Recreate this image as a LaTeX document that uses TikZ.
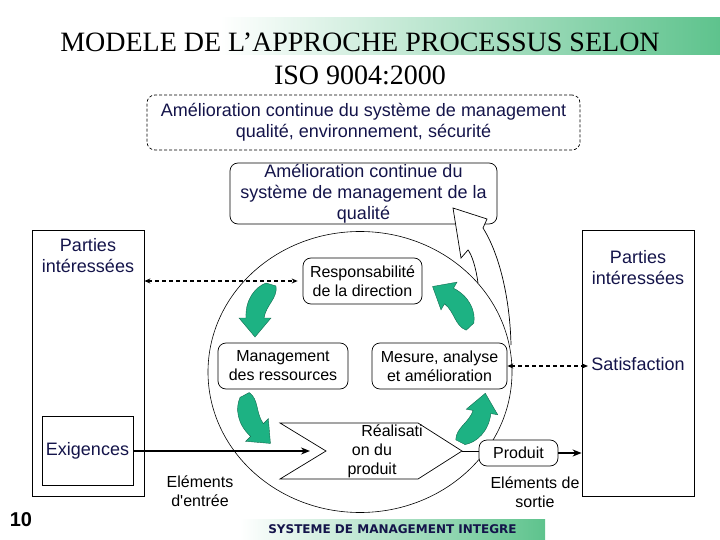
\documentclass[tikz,border=0pt]{standalone}
\usepackage{fontspec}
\setmainfont{Liberation Sans}
\newfontfamily\titlefont{Liberation Serif}
\newfontfamily\bandfont{DejaVu Sans}
\usetikzlibrary{arrows.meta}
\definecolor{IsoNavy}{HTML}{14144A}
\definecolor{IsoGreen}{HTML}{5EC38D}
\definecolor{PdcaGreen}{HTML}{1DB283}

% fleche verte courbe du cycle (position, rotation)
\newcommand{\pdcaarrow}[2]{%
  \filldraw[pdca,shift={#1},rotate=#2]
    (11,-35) -- (21,-32) .. controls (23,-20) and (11,-13) .. (9,0)
    -- (16,0) -- (0,19) -- (-16,0) -- (-9,0)
    .. controls (-10,-18) and (0,-31) .. cycle;}

\begin{document}
\begin{tikzpicture}[
  x=1pt,y=-1pt,
  font=\fontsize{16}{19}\selectfont,
  box/.style={draw,line width=0.7pt,rounded corners=8pt,fill=white,align=center,inner sep=0pt},
  pibox/.style={draw,line width=0.8pt,fill=white,inner sep=0pt},
  navytxt/.style={text=IsoNavy,font=\fontsize{18}{21}\selectfont,align=center},
  plaintxt/.style={align=center},
  pdca/.style={fill=PdcaGreen,draw=PdcaGreen!60!black,line width=0.4pt},
  arr/.style={-{Stealth[length=9pt,width=7pt]},line width=2pt},
  dasharr/.style={{Stealth[length=6pt,width=5pt]}-{Stealth[length=6pt,width=5pt]},line width=1.5pt,dash pattern=on 4pt off 3pt}
]
  \useasboundingbox (0,0) rectangle (720,540);
  % titre
  \shade[left color=white,right color=IsoGreen] (220,18) rectangle (720,55);
  \node[font=\titlefont\fontsize{28}{33}\selectfont,align=center] (title) at (360,59) {MODELE DE L’APPROCHE PROCESSUS SELON\\ISO 9004:2000};

  \node[navytxt,draw,rounded corners=8pt,dash pattern=on 3pt off 2pt,line width=0.7pt,minimum width=433pt,minimum height=55pt] (smi) at (363.5,122.5) {Amélioration continue du système de management\\qualité, environnement, sécurité};
  \node[navytxt,box,minimum width=267pt,minimum height=61pt] (amq) at (363.5,193.5) {Amélioration continue du\\système de management de la\\qualité};

  % boucle vers l'amelioration
  \fill[white] (478,283) .. controls (476,268) and (472,255) .. (468,250) -- (461,258) -- (453,208) -- (487,219) -- (483,228) .. controls (500,255) and (510,300) .. (511,345) -- cycle;
  \draw[line width=0.7pt] (478,283) .. controls (476,268) and (472,255) .. (468,250) -- (461,258) -- (453,208) -- (487,219) -- (483,228) .. controls (500,255) and (510,300) .. (511,345);
  \draw[line width=0.6pt] (360,372) ellipse [x radius=152pt, y radius=140.5pt];

  % parties interessees
  \node[pibox,minimum width=112pt,minimum height=266pt] (pileft) at (88,363) {};
  \node[navytxt] (pileftlbl) at (88,256) {Parties\\intéressées};
  \node[pibox,minimum width=112pt,minimum height=266pt] (piright) at (638,363) {};
  \node[navytxt] (pirightlbl) at (638,267.5) {Parties\\intéressées};
  \node[navytxt] (satis) at (638,364) {Satisfaction};
  \node[navytxt,pibox,minimum width=91pt,minimum height=69pt] (exig) at (87.5,451) {Exigences};

  % processus
  \node[box,minimum width=119pt,minimum height=46pt] (resp) at (362.5,281) {Responsabilité\\de la direction};
  \node[box,minimum width=130pt,minimum height=46pt] (mgmt) at (283,366) {Management\\des ressources};
  \node[box,minimum width=135pt,minimum height=46pt] (mesure) at (439.5,366) {Mesure, analyse\\et amélioration};
  \node[box,minimum width=79pt,minimum height=26pt] (produit) at (518.5,453) {Produit};

  \draw[line width=0.7pt,fill=white] (280,423) -- (418,423) -- (462,451) -- (418,479) -- (280,479) -- (326,451) -- cycle;
  \coordinate (realin) at (310,451);
  \coordinate (realout) at (462,451);
  \node[plaintxt] (real) at (372,451) {\hspace*{40pt}Réalisati\\on du\\produit};

  \pdcaarrow{(255,318)}{0}
  \pdcaarrow{(257,430)}{45}
  \pdcaarrow{(482,412)}{170}
  \pdcaarrow{(449,296)}{-120}

  % liaisons
  \draw[arr] (exig.east) -- (realin);
  \draw[line width=0.7pt] (realout) -- (realout -| produit.west);
  \draw[arr] (produit.east) -- (produit.east -| piright.west);
  \draw[dasharr,shorten >=5pt] (pileft.east |- resp.west) -- (resp.west);
  \draw[dasharr] (mesure.east) -- (mesure.east -| satis.west);

  \node[plaintxt] (entree) at (200,491) {Eléments\\d\textquotesingle entrée};
  \node[plaintxt] (sortie) at (535,492.5) {Eléments de\\sortie};
  \node[font=\bfseries\fontsize{20}{24}\selectfont] (pagenum) at (21,520) {10};
  \shade[left color=white,right color=IsoGreen] (240,519) rectangle (545,540);
  \node[text=IsoNavy,font=\bandfont\bfseries\fontsize{12}{14}\selectfont] (smititle) at (392.5,529) {SYSTEME DE MANAGEMENT INTEGRE};
\end{tikzpicture}
\end{document}
